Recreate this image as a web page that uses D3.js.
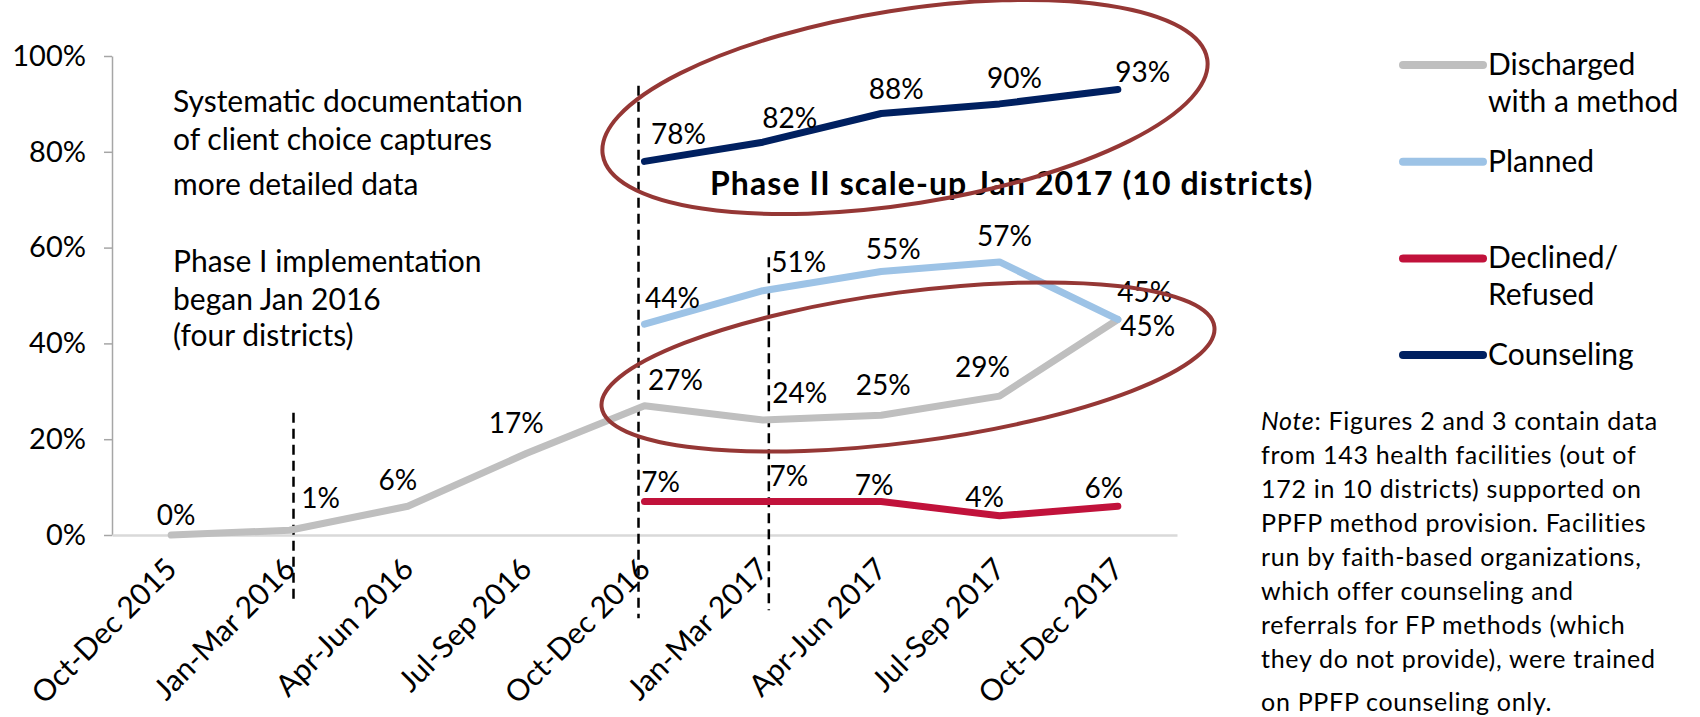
<!DOCTYPE html>
<html>
<head>
<meta charset="utf-8">
<script src="https://cdn.jsdelivr.net/npm/d3@7"></script>
<style>
  body { margin: 0; background: #fff; }
  svg { display: block; font-family: Lato, "Open Sans", sans-serif; }
</style>
</head>
<body>
<div id="chart"></div>
<script>

// data (percent)
var quarters = ['Oct-Dec 2015', 'Jan-Mar 2016', 'Apr-Jun 2016', 'Jul-Sep 2016', 'Oct-Dec 2016',
   'Jan-Mar 2017', 'Apr-Jun 2017', 'Jul-Sep 2017', 'Oct-Dec 2017'];
var discharged = [0, 1, 6, 17, 27, 24, 25, 29, 45];
var planned = [null, null, null, null, 44, 51, 55, 57, 45];
var declined = [null, null, null, null, 7, 7, 7, 4, 6];
var counseling = [null, null, null, null, 78, 82, 88, 90, 93];
var yTicks = [0, 20, 40, 60, 80, 100];
var seriesNames = ['Discharged\nwith a method', 'Planned', 'Declined/\nRefused', 'Counseling'];

// quarters where the phase markers (dashed lines) sit
var markerQuarters = ['Jan-Mar 2016', 'Oct-Dec 2016', 'Jan-Mar 2017'];

var annotation1 = ['Systematic documentation', 'of client choice captures', 'more detailed data'];
var annotation2 = ['Phase I implementation', 'began Jan 2016', '(four districts)'];
var phase2Text = 'Phase II scale-up Jan 2017 (10 districts)';
var noteLines = [': Figures 2 and 3 contain data', 'from 143 health facilities (out of',
   '172 in 10 districts) supported on', 'PPFP method provision. Facilities',
   'run by faith-based organizations,', 'which offer counseling and',
   'referrals for FP methods (which', 'they do not provide), were trained',
   'on PPFP counseling only.'];

// ---- layout / style ----
var SVG_WIDTH = 1700;
var SVG_HEIGHT = 717;
var LINE_W = 7;
var COLORS = ['#bfbfbf', '#9dc3e6', '#c1123b', '#002060'];
var ELLIPSE_COLOR = '#953735';

// label nudges [dx, dy] from each point (label centre, baseline)
var NUDGES = [
   [[5, -10], [31, -22], [-10, -16], [-10, -21], [31, -16], [37, -17], [2, -20], [-17, -19], [30, 17]],
   [null, null, null, null, [28, -16], [36, -19], [12, -13], [5, -16], [27, -17]],
   [null, null, null, null, [16, -9], [26, -15], [-7, -6], [-15, -9], [-14, -8]],
   [null, null, null, null, [34, -17], [27, -14], [15, -14], [15, -16], [25, -8]]
];
// dashed markers: x nudge, top value, bottom value
var MARKERS = [[4, 25.5, -13.6], [-6, 93.8, -17.4], [6, 58, -15.7]];

var svg = d3.select('#chart').append('svg')
   .attr('width', SVG_WIDTH)
   .attr('height', SVG_HEIGHT);

var x = d3.scalePoint().domain(quarters).range([112, 1177]).padding(0.5);
var y = d3.scaleLinear().domain([0, 100]).range([535, 56]);

// y axis
var yAxis = svg.append('g')
   .attr('transform', 'translate(112,0)')
   .call(d3.axisLeft(y).tickValues(yTicks).tickFormat(function(d){ return d + '%'; })
      .tickSize(8).tickSizeOuter(0).tickPadding(18));
yAxis.select('.domain').attr('stroke', '#a6a6a6').attr('stroke-width', 1.5);
yAxis.selectAll('.tick line').attr('stroke', '#a6a6a6').attr('stroke-width', 1.5);
yAxis.selectAll('.tick text')
   .attr('fill', '#000')
   .style('font-family', 'Lato')
   .style('font-size', '29px');

// x axis with rotated labels
var xAxis = svg.append('g')
   .attr('transform', 'translate(0,535)')
   .call(d3.axisBottom(x).tickSize(0).tickSizeOuter(0));
xAxis.select('.domain').attr('stroke', '#d9d9d9').attr('stroke-width', 2.5);
xAxis.selectAll('.tick text')
   .attr('x', 0).attr('y', 0).attr('dy', 0)
   .attr('transform', 'translate(7,36) rotate(-45)')
   .attr('text-anchor', 'end')
   .attr('fill', '#000')
   .style('font-family', 'Lato')
   .style('font-size', '30px');

// dashed phase markers
svg.append('g').selectAll('line')
   .data(markerQuarters)
   .enter()
   .append('line')
      .attr('x1', function(d, i){ return x(d) + MARKERS[i][0]; })
      .attr('x2', function(d, i){ return x(d) + MARKERS[i][0]; })
      .attr('y1', function(d, i){ return y(MARKERS[i][1]); })
      .attr('y2', function(d, i){ return y(MARKERS[i][2]); })
      .attr('stroke', '#000')
      .attr('stroke-width', 2.5)
      .attr('stroke-dasharray', '10,6');

// series lines
var allSeries = [discharged, planned, declined, counseling];
var line = d3.line()
   .defined(function(d){ return d.v !== null; })
   .x(function(d){ return x(d.q); })
   .y(function(d){ return y(d.v); });

allSeries.forEach(function(vals, s){
   var pts = vals.map(function(v, i){ return {q: quarters[i], v: v, i: i}; });

   svg.append('path')
      .datum(pts)
      .attr('d', line)
      .attr('fill', 'none')
      .attr('stroke', COLORS[s])
      .attr('stroke-width', LINE_W)
      .attr('stroke-linejoin', 'round')
      .attr('stroke-linecap', 'round');

   svg.append('g').selectAll('text')
      .data(pts.filter(function(d){ return d.v !== null; }))
      .enter()
      .append('text')
         .attr('x', function(d){ return x(d.q) + NUDGES[s][d.i][0]; })
         .attr('y', function(d){ return y(d.v) + NUDGES[s][d.i][1]; })
         .attr('text-anchor', 'middle')
         .style('font-size', '28px')
         .text(function(d){ return d.v + '%'; });
});

// text annotations
function multiLine(lines, x0, baselines, size){
   var t = svg.append('text').style('font-size', size + 'px');
   lines.forEach(function(l, i){
      t.append('tspan').attr('x', x0).attr('y', baselines[i]).text(l);
   });
   return t;
}
multiLine(annotation1, 173, [112, 150, 195], 30);
multiLine(annotation2, 173, [272, 310, 346], 30);

svg.append('text')
   .attr('x', 710)
   .attr('y', 195)
   .style('font-size', '32px')
   .style('font-weight', 'bold')
   .style('letter-spacing', '1.1px')
   .text(phase2Text);

// note block
var note = svg.append('text')
   .style('font-size', '25px')
   .style('letter-spacing', '0.7px');
noteLines.forEach(function(l, i){
   var ts = note.append('tspan')
      .attr('x', 1261)
      .attr('y', i < 8 ? 430 + i * 34 : 711);
   if(i === 0){
      ts.append('tspan').style('font-style', 'italic').text('Note');
      ts.append('tspan').text(l);
   } else {
      ts.text(l);
   }
});

// legend
var legend = svg.append('g').selectAll('g')
   .data(seriesNames)
   .enter()
   .append('g')
      .attr('transform', function(d, i){ return 'translate(1403,' + (65 + i * 96.7) + ')'; });

legend.append('line')
   .attr('x1', 0).attr('x2', 80)
   .attr('stroke', function(d, i){ return COLORS[i]; })
   .attr('stroke-width', 8)
   .attr('stroke-linecap', 'round');

legend.append('text')
   .style('font-size', '30px')
   .selectAll('tspan')
   .data(function(d){ return d.split('\n'); })
   .enter()
   .append('tspan')
      .attr('x', 85)
      .attr('y', function(d, i){ return 10 + i * 37; })
      .text(function(d){ return d; });

// hand drawn ellipses on top
var ellipses = [
   {cx: 905, cy: 107, rx: 306, ry: 97, rot: -9},
   {cx: 908, cy: 367, rx: 309, ry: 75, rot: -7.5}
];
svg.append('g').selectAll('ellipse')
   .data(ellipses)
   .enter()
   .append('ellipse')
      .attr('cx', function(d){ return d.cx; })
      .attr('cy', function(d){ return d.cy; })
      .attr('rx', function(d){ return d.rx; })
      .attr('ry', function(d){ return d.ry; })
      .attr('transform', function(d){ return 'rotate(' + d.rot + ',' + d.cx + ',' + d.cy + ')'; })
      .attr('fill', 'none')
      .attr('stroke', ELLIPSE_COLOR)
      .attr('stroke-width', 4);

</script>
</body>
</html>
